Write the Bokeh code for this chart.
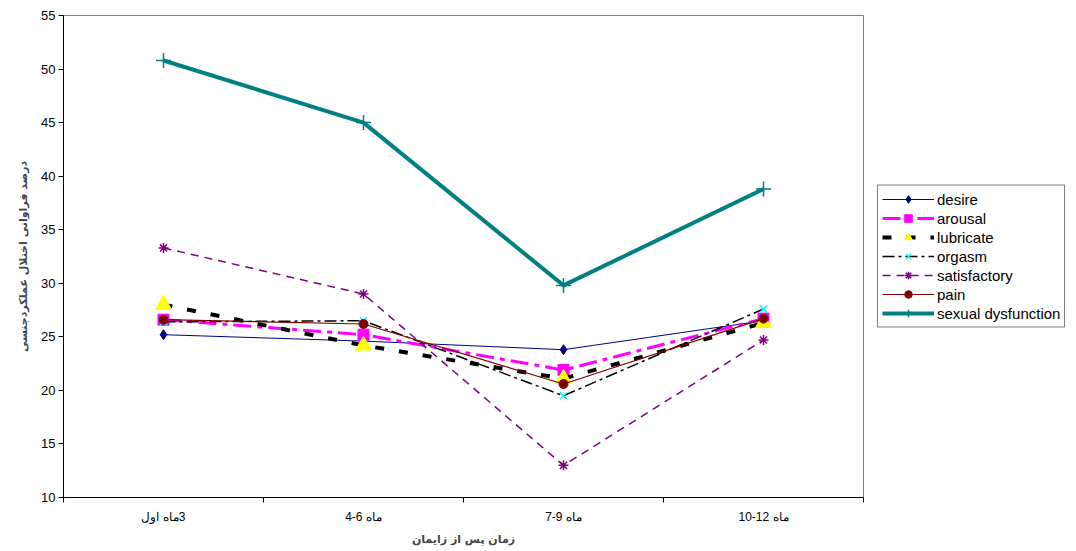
import numpy as np
from bokeh.plotting import figure
from bokeh.models import (Range1d, FixedTicker, Legend, LegendItem, ColumnDataSource)
from bokeh.embed import file_html
from bokeh.resources import INLINE

# ---- data ----
# (\u2066...\u2069 keeps the digit ranges left-to-right inside the right-to-left label)
categories = ["\u200f3ماه اول", "ماه \u20664-6\u2069\u200f",
              "ماه \u20667-9\u2069\u200f", "ماه \u206610-12\u2069\u200f"]
desire = [25.2, 24.6, 23.8, 26.5]
arousal = [26.6, 25.2, 21.9, 26.7]
lubricate = [28.0, 24.2, 21.1, 26.3]
orgasm = [26.4, 26.5, 19.5, 27.6]
satisfactory = [33.3, 29.0, 13.0, 24.7]
pain = [26.6, 26.2, 20.6, 26.7]
sexual_dysfunction = [50.8, 45.0, 29.8, 38.8]
y_ticks = [10, 15, 20, 25, 30, 35, 40, 45, 50, 55]
x_title = "زمان پس از زایمان"
y_title = "درصد فراوانی اختلال عملکردجنسی"

# category slots: centre of each slot, slot edges for tick marks
n = len(categories)
x_centres = [i + 0.5 for i in range(n)]
x_edges = list(range(n + 1))

p = figure(x_range=Range1d(0, n), y_range=Range1d(10, 55),
           frame_width=800, frame_height=482,
           min_border_left=63, min_border_right=205, min_border_top=15, min_border_bottom=44,
           output_backend="svg", toolbar_location=None)
p.xgrid.visible = False
p.ygrid.visible = False
p.outline_line_color = "#808080"
p.outline_line_width = 1
p.background_fill_color = "white"
p.border_fill_color = "white"

# y axis
ya = p.yaxis[0]
ya.ticker = FixedTicker(ticks=y_ticks)
ya.axis_line_color = "black"
ya.major_tick_line_color = "black"
ya.major_tick_out = 5
ya.major_tick_in = 0
ya.minor_tick_line_color = None
ya.major_label_standoff = 3
ya.major_label_text_font = "Liberation Sans"
ya.major_label_text_font_size = "13px"
ya.major_label_text_color = "black"
ya.axis_label = y_title
ya.axis_label_text_font = "DejaVu Sans"
ya.axis_label_text_font_style = "bold"
ya.axis_label_text_font_size = "11px"
ya.axis_label_standoff = 8

# x axis: labels at slot centres, tick marks at slot edges
xa = p.xaxis[0]
xa.ticker = FixedTicker(ticks=x_centres, minor_ticks=x_edges)
xa.major_label_overrides = {c: lab for c, lab in zip(x_centres, categories)}
xa.axis_line_color = "black"
xa.major_tick_line_color = None
xa.major_tick_out = 0
xa.major_tick_in = 0
xa.minor_tick_line_color = "black"
xa.minor_tick_out = 5
xa.minor_tick_in = 0
xa.major_label_standoff = 7
xa.major_label_text_font = "Liberation Sans"
xa.major_label_text_font_size = "12px"
xa.major_label_text_color = "black"
xa.axis_label = x_title
xa.axis_label_text_font = "DejaVu Sans"
xa.axis_label_text_font_style = "bold"
xa.axis_label_text_font_size = "11px"
xa.axis_label_standoff = 6

series = [
    ("desire", desire, dict(color="#000080", width=1, dash="solid"),
     dict(marker="diamond", size=10, fill="#000080", line="#000080", lw=1)),
    ("arousal", arousal, dict(color="#FF00FF", width=3, dash="18 6 5 6"),
     dict(marker="square", size=11, fill="#FF00FF", line="#FF00FF", lw=1)),
    ("lubricate", lubricate, dict(color="black", width=4, dash="9 15"),
     dict(marker="triangle", size=16, fill="#FFFF00", line="#FFFF00", lw=1)),
    ("orgasm", orgasm, dict(color="black", width=1.5, dash="12 4 3 4"),
     dict(marker="x", size=10, fill=None, line="#00FFFF", lw=1.5)),
    ("satisfactory", satisfactory, dict(color="#800080", width=1.5, dash="8 6"),
     dict(marker="asterisk", size=10, fill=None, line="#800080", lw=1.5)),
    ("pain", pain, dict(color="#800000", width=1.2, dash="solid"),
     dict(marker="circle", size=9, fill="#800000", line="#800000", lw=1)),
    ("sexual dysfunction", sexual_dysfunction, dict(color="#008080", width=4, dash="solid"),
     dict(marker="cross", size=15, fill=None, line="#008080", lw=1.5)),
]

items = []
for name, vals, ls, ms in series:
    src = ColumnDataSource(dict(x=x_centres, y=vals))
    lr = p.line("x", "y", source=src, line_color=ls["color"], line_width=ls["width"],
                line_dash=ls["dash"])
    sr = p.scatter("x", "y", source=src, marker=ms["marker"], size=ms["size"],
                   fill_color=ms["fill"], line_color=ms["line"], line_width=ms["lw"])
    items.append(LegendItem(label=name, renderers=[lr, sr]))

legend = Legend(items=items, location="center_left", margin=14,
                border_line_color="black", border_line_width=1,
                background_fill_color="white", background_fill_alpha=1,
                label_text_font="Liberation Sans", label_text_font_size="15px",
                label_text_color="black",
                glyph_width=52, glyph_height=19, label_height=19, spacing=0,
                padding=4, label_standoff=3)
p.add_layout(legend, "right")

open("out.html", "w").write(file_html(p, INLINE))
